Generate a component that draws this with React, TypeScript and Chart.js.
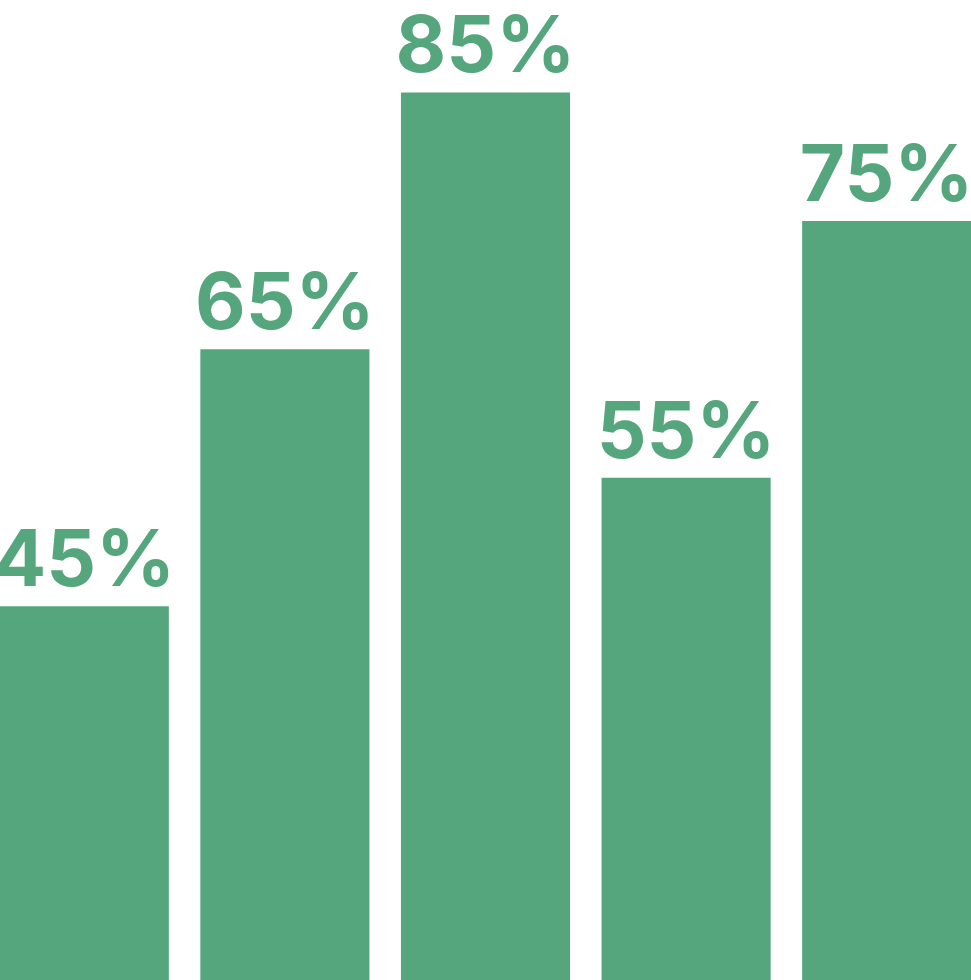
import React, { useEffect, useRef } from "react";
import { Chart, registerables } from "chart.js";

Chart.register(...registerables);

const categories = ["A", "B", "C", "D", "E"];
const values = [45, 65, 85, 55, 75];
const valueLabels = ["45%", "65%", "85%", "55%", "75%"];

const GREEN = "#55A67D";

const labelPlugin = {
  id: "barLabels",
  afterDatasetsDraw(chart: any) {
    const ctx = chart.ctx;
    const meta = chart.getDatasetMeta(0);
    ctx.save();
    ctx.fillStyle = GREEN;
    ctx.font = "bold 78px Inter";
    ctx.textAlign = "center";
    ctx.textBaseline = "alphabetic";
    meta.data.forEach((bar: any, i: number) => {
      ctx.fillText(valueLabels[i], bar.x, bar.y - 20);
    });
    ctx.restore();
  },
};

export default function App() {
  const ref = useRef<HTMLCanvasElement | null>(null);
  useEffect(() => {
    document.body.style.margin = "0";
    const chart = new Chart(ref.current!, {
      type: "bar",
      data: {
        labels: categories,
        datasets: [
          {
            data: values,
            backgroundColor: GREEN,
            borderWidth: 0,
            barPercentage: 1,
            categoryPercentage: 0.843,
          },
        ],
      },
      options: {
        animation: false,
        responsive: false,
        maintainAspectRatio: false,
        layout: { padding: 0 },
        plugins: { legend: { display: false }, tooltip: { enabled: false } },
        scales: {
          x: { display: false, offset: true, grid: { display: false } },
          y: { display: false, min: 15.9, max: 92.2, grid: { display: false } },
        },
      },
      plugins: [labelPlugin],
    });
    return () => chart.destroy();
  }, []);
  return (
    <div style={{ position: "fixed", left: 0, top: 0, width: 971, height: 980, overflow: "hidden", background: "#fff" }}>
      <canvas ref={ref} width={1003} height={980} style={{ position: "absolute", left: -16, top: 0, width: 1003, height: 980 }} />
    </div>
  );
}
